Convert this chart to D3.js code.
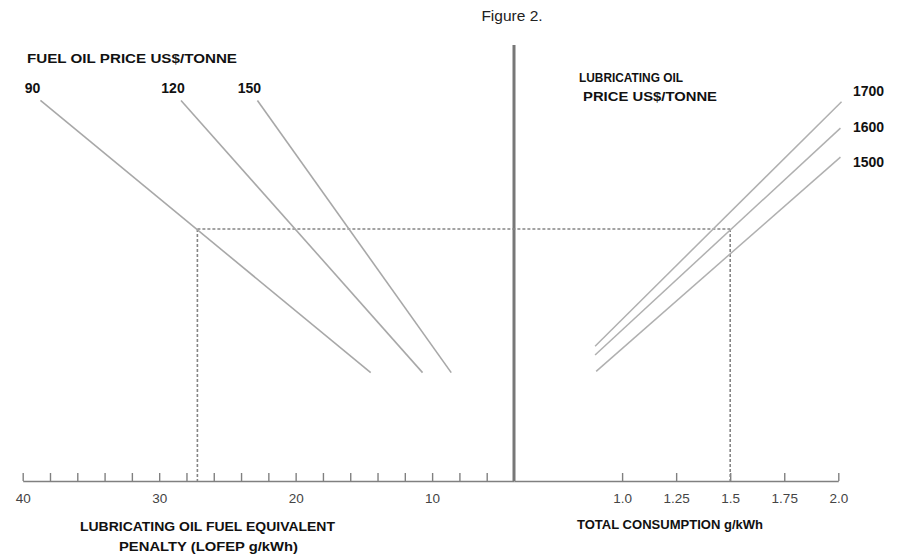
<!DOCTYPE html>
<html>
<head>
<meta charset="utf-8">
<script src="https://cdn.jsdelivr.net/npm/d3@7"></script>
<style>
  body { margin: 0; background: #fff; }
  text { font-family: "Liberation Sans", Arial, sans-serif; }
</style>
</head>
<body>
<div id="container"></div>
<script>
/* DATA */
// fuel oil price lines (US$/tonne), LOFEP g/kWh vs lube oil cost
const fuelPrices = [90, 120, 150]
const fuelLofepStart = [38.7, 28.4, 22.8]
const fuelLofepEnd = [14.5, 10.7, 8.6]
const fuelCostStart = [3.42, 3.42, 3.42]
const fuelCostEnd = [1.26, 1.26, 1.26]

// lubricating oil price lines (US$/tonne), consumption g/kWh vs lube oil cost
const lubePrices = [1700, 1600, 1500]
const lubeConsStart = [0.875, 0.875, 0.88]
const lubeConsEnd = [2.015, 2.01, 2.01]
const lubeCostStart = [1.47, 1.40, 1.27]
const lubeCostEnd = [3.41, 3.20, 2.97]

// worked example (dotted guide)
const exampleLofep = 27.2
const exampleCons = 1.5
const exampleCost = 2.4

// axes
const lofepTicks = d3.range(40, 5, -2)
const lofepLabels = [40, 30, 20, 10]
const consTicks = [1.0, 1.25, 1.5, 1.75, 2.0]
const consLabels = ["1.0", "1.25", "1.5", "1.75", "2.0"]

/* CONSTANTS */
const width = 907
const height = 558
const axisY = 481

/* SCALES */
const xL = d3.scaleLinear().domain([40, 4]).range([22.7, 514])
const xR = d3.scaleLinear().domain([0.5, 2.0]).range([514, 838.3])
const y = d3.scaleLinear().domain([0.4, 3.86]).range([axisY, 45])

const svg = d3.select("#container")
  .append("svg")
  .attr("width", width)
  .attr("height", height)

svg.append("text")
  .attr("x", 512).attr("y", 21)
  .attr("text-anchor", "middle")
  .attr("font-size", 15.5)
  .attr("fill", "#222")
  .text("Figure 2.")

// axes
const leftAxis = d3.axisBottom(xL)
  .tickValues(lofepTicks)
  .tickSize(-8)
  .tickSizeOuter(0)
  .tickPadding(12)
  .tickFormat(d => lofepLabels.includes(d) ? d : "")
const gL = svg.append("g")
  .attr("transform", `translate(0,${axisY})`)
  .call(leftAxis)

const rightAxis = d3.axisBottom(xR)
  .tickValues(consTicks)
  .tickSize(-8)
  .tickSizeOuter(0)
  .tickPadding(12)
  .tickFormat((d, i) => consLabels[i])
const gR = svg.append("g")
  .attr("transform", `translate(0,${axisY})`)
  .call(rightAxis)

for (const g of [gL, gR]) {
  g.select(".domain").attr("stroke", "#808080").attr("stroke-width", 1.6)
  g.selectAll(".tick line").attr("stroke", "#808080").attr("stroke-width", 1.4)
  g.selectAll(".tick text")
    .attr("font-size", 13.5)
    .attr("fill", "#444")
    .attr("font-family", "'Liberation Sans', Arial, sans-serif")
}

// centre divider
svg.append("line")
  .attr("x1", xL(4)).attr("x2", xL(4))
  .attr("y1", y(3.86)).attr("y2", y(0.4))
  .attr("stroke", "#777")
  .attr("stroke-width", 3)

// dotted guide
const guide = svg.append("g")
  .attr("stroke", "#858585")
  .attr("stroke-width", 1.6)
  .attr("stroke-dasharray", "3,2")
  .attr("fill", "none")
guide.append("line")
  .attr("x1", xL(exampleLofep)).attr("x2", xR(exampleCons))
  .attr("y1", y(exampleCost)).attr("y2", y(exampleCost))
guide.append("line")
  .attr("x1", xL(exampleLofep)).attr("x2", xL(exampleLofep))
  .attr("y1", y(exampleCost)).attr("y2", y(0.4))
guide.append("line")
  .attr("x1", xR(exampleCons)).attr("x2", xR(exampleCons))
  .attr("y1", y(exampleCost)).attr("y2", y(0.4))

// fuel oil lines
svg.selectAll(".fuel")
  .data(fuelPrices)
  .join("line")
  .attr("class", "fuel")
  .attr("x1", (d, i) => xL(fuelLofepStart[i]))
  .attr("y1", (d, i) => y(fuelCostStart[i]))
  .attr("x2", (d, i) => xL(fuelLofepEnd[i]))
  .attr("y2", (d, i) => y(fuelCostEnd[i]))
  .attr("stroke", "#a8a8a8")
  .attr("stroke-width", 1.6)

svg.selectAll(".fuelLabel")
  .data(fuelPrices)
  .join("text")
  .attr("class", "fuelLabel")
  .attr("x", (d, i) => xL(fuelLofepStart[i]) - 8)
  .attr("y", 93)
  .attr("text-anchor", "middle")
  .attr("font-size", 14)
  .attr("font-weight", "bold")
  .attr("fill", "#111")
  .text(d => d)

// lube oil lines
svg.selectAll(".lube")
  .data(lubePrices)
  .join("line")
  .attr("class", "lube")
  .attr("x1", (d, i) => xR(lubeConsStart[i]))
  .attr("y1", (d, i) => y(lubeCostStart[i]))
  .attr("x2", (d, i) => xR(lubeConsEnd[i]))
  .attr("y2", (d, i) => y(lubeCostEnd[i]))
  .attr("stroke", "#b0b0b0")
  .attr("stroke-width", 1.5)

svg.selectAll(".lubeLabel")
  .data(lubePrices)
  .join("text")
  .attr("class", "lubeLabel")
  .attr("x", 853)
  .attr("y", (d, i) => 96 + i * 35.5)
  .attr("font-size", 14)
  .attr("font-weight", "bold")
  .attr("fill", "#111")
  .text(d => d)

// captions
const captions = [
  { t: "FUEL OIL PRICE US$/TONNE", x: 27, y: 63, w: 210 },
  { t: "LUBRICATING OIL", x: 579, y: 82, w: 104 },
  { t: "PRICE US$/TONNE", x: 583, y: 101, w: 134 },
  { t: "LUBRICATING OIL FUEL EQUIVALENT", x: 80, y: 531, w: 255 },
  { t: "PENALTY (LOFEP g/kWh)", x: 119, y: 551, w: 179 },
  { t: "TOTAL CONSUMPTION g/kWh", x: 577, y: 529, w: 186 }
]
svg.selectAll(".caption")
  .data(captions)
  .join("text")
  .attr("class", "caption")
  .attr("x", d => d.x)
  .attr("y", d => d.y)
  .attr("font-size", 13.5)
  .attr("font-weight", "bold")
  .attr("fill", "#111")
  .attr("textLength", d => d.w)
  .attr("lengthAdjust", "spacingAndGlyphs")
  .text(d => d.t)
</script>
</body>
</html>
